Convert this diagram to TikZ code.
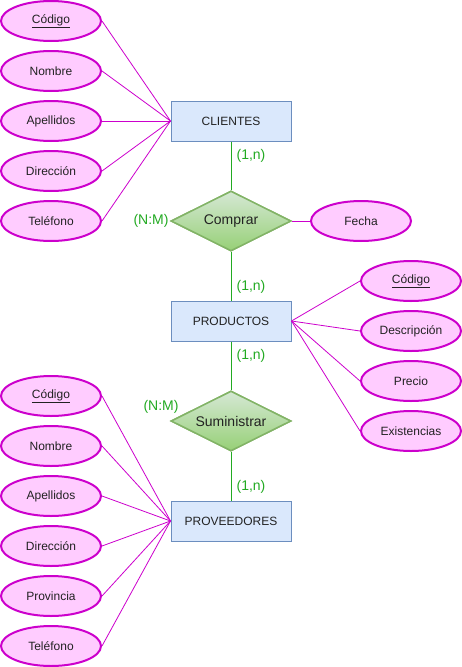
\documentclass[tikz,border=0pt]{standalone}
\usepackage{fontspec}
\setmainfont{Liberation Sans}
\usetikzlibrary{shapes.geometric}
\definecolor{attrfill}{HTML}{FFCCFF}
\definecolor{attrdraw}{HTML}{CC00CC}
\definecolor{entfill}{HTML}{DAE8FC}
\definecolor{entdraw}{HTML}{6C8EBF}
\definecolor{reltop}{HTML}{D5E8D4}
\definecolor{relbot}{HTML}{97D077}
\definecolor{reldraw}{HTML}{82B366}
\definecolor{cardgreen}{HTML}{22AA22}
\definecolor{txt}{HTML}{222222}
\tikzset{
  attr/.style={ellipse, draw=attrdraw, fill=attrfill, line width=2pt, minimum width=100pt, minimum height=40pt, inner sep=0pt, text=txt, font=\fontsize{12}{14}\selectfont},
  entity/.style={rectangle, draw=entdraw, fill=entfill, line width=1pt, minimum width=120pt, minimum height=40pt, inner sep=0pt, text=txt, font=\fontsize{12}{14}\selectfont},
  relation/.style={diamond, aspect=2, draw=reldraw, line width=1.5pt, top color=reltop, bottom color=relbot, minimum width=120pt, minimum height=60pt, inner sep=0pt, text=txt, font=\fontsize{14}{16}\selectfont},
  attrline/.style={draw=attrdraw, line width=0.8pt},
  relline/.style={draw=cardgreen, line width=1pt},
  card/.style={text=cardgreen, font=\fontsize{14}{16}\selectfont, inner sep=0pt}
}
\begin{document}
\begin{tikzpicture}[x=1pt,y=1pt]
\useasboundingbox (0,0) rectangle (462,-667);
% entities
\node[entity] (cli) at (231,-121) {CLIENTES};
\node[entity] (prod) at (231,-321) {PRODUCTOS};
\node[entity] (prov) at (231,-521) {PROVEEDORES};
% relations
\node[relation] (comp) at (231,-221) {Comprar};
\node[relation] (sum) at (231,-421) {Suministrar};
% client attributes
\node[attr] (c1) at (51,-21) {\underline{Código}};
\node[attr] (c2) at (51,-71) {Nombre};
\node[attr] (c3) at (51,-121) {Apellidos};
\node[attr] (c4) at (51,-171) {Dirección};
\node[attr] (c5) at (51,-221) {Teléfono};
% fecha
\node[attr] (fecha) at (361,-221) {Fecha};
% product attributes
\node[attr] (p1) at (411,-281) {\underline{Código}};
\node[attr] (p2) at (411,-331) {Descripción};
\node[attr] (p3) at (411,-381) {Precio};
\node[attr] (p4) at (411,-431) {Existencias};
% supplier attributes
\node[attr] (s1) at (51,-396) {\underline{Código}};
\node[attr] (s2) at (51,-446) {Nombre};
\node[attr] (s3) at (51,-496) {Apellidos};
\node[attr] (s4) at (51,-546) {Dirección};
\node[attr] (s5) at (51,-596) {Provincia};
\node[attr] (s6) at (51,-646) {Teléfono};
% attribute lines
\foreach \a in {c1,c2,c3,c4,c5} \draw[attrline] (\a.east) -- (cli.west);
\foreach \a in {p1,p2,p3,p4} \draw[attrline] (prod.east) -- (\a.west);
\foreach \a in {s1,s2,s3,s4,s5,s6} \draw[attrline] (\a.east) -- (prov.west);
\draw[attrline] (comp.east) -- (fecha.west);
% relation lines
\draw[relline] (cli.south) -- (comp.north);
\draw[relline] (comp.south) -- (prod.north);
\draw[relline] (prod.south) -- (sum.north);
\draw[relline] (sum.south) -- (prov.north);
% cardinalities
\node[card] (k1) at (251,-156) {(1,n)};
\node[card] (k2) at (151,-221) {(N:M)};
\node[card] (k3) at (251,-287) {(1,n)};
\node[card] (k4) at (251,-356) {(1,n)};
\node[card] (k5) at (161,-407) {(N:M)};
\node[card] (k6) at (251,-487) {(1,n)};
% redraw relations on top of lines
\node[relation] at (231,-221) {Comprar};
\node[relation] at (231,-421) {Suministrar};
\end{tikzpicture}
\end{document}
